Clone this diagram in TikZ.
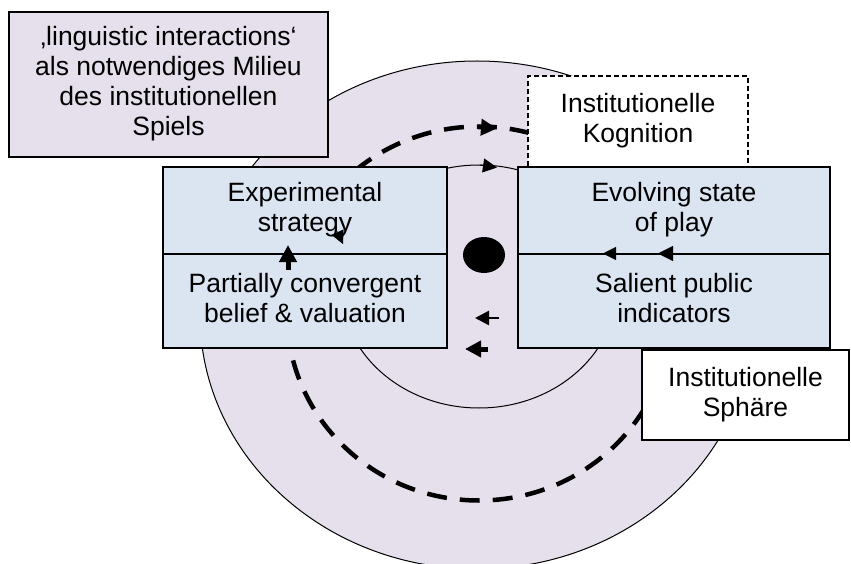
\documentclass[tikz,border=0pt]{standalone}
\usepackage{fontspec}
\setmainfont{Liberation Sans}
\usetikzlibrary{arrows.meta}
\definecolor{lila}{RGB}{229,224,236}
\definecolor{celeste}{RGB}{219,229,241}

\begin{document}
\begin{tikzpicture}[x=1pt,y=-1pt,
    caja/.style={draw, line width=1.6pt, align=center, inner sep=0pt,
      font=\fontsize{26.5}{30}\selectfont},
    mitad/.style={caja, fill=celeste},
    punta/.style={-{Triangle[length=#1pt,width=#1pt]}}]
	\useasboundingbox (0,0) rectangle (851,564);

	% Esferas de fondo
	\filldraw[fill=lila, line width=1pt] (477,315) ellipse [x radius=277, y radius=254];
	\draw[line width=1pt] (479,286.5) ellipse [x radius=138, y radius=121.5];
	\draw[line width=4.5pt, dash pattern=on 20pt off 13pt] (479,313.5) ellipse [x radius=192, y radius=187];
	\fill (484,255) ellipse [x radius=21, y radius=18];

	% Cajas de texto
	\node[caja, fill=lila, minimum width=319pt, minimum height=145pt] (L) at (168.5,84.5)
	  {‚linguistic interactions‘\strut\\als notwendiges Milieu\\des institutionellen\\Spiels\strut};
	\node[caja, fill=white, line width=1.5pt, dash pattern=on 5pt off 3pt,
	  minimum width=220pt, minimum height=91pt] (K) at (638,121.5)
	  {Institutionelle\strut\\Kognition\strut};
	\node[mitad, minimum width=284pt, minimum height=87pt] (E) at (305,210.5)
	  {Experimental\strut\\strategy\strut};
	\node[mitad, minimum width=284pt, minimum height=94pt] (P) at (305,301)
	  {Partially convergent\strut\\belief \& valuation\strut};
	\node[mitad, minimum width=312pt, minimum height=87pt] (V) at (674,210.5)
	  {Evolving state\strut\\of play\strut};
	\node[mitad, minimum width=312pt, minimum height=94pt] (S) at (674,301)
	  {Salient public\strut\\indicators\strut};
	\node[caja, fill=white, minimum width=207pt, minimum height=90pt] (H) at (745.5,395)
	  {Institutionelle\strut\\Sphäre\strut};

	% Flechas sueltas
	\draw[line width=4.5pt, punta=16] (478,127) -- (497,128.5);
	\draw[line width=1pt, punta=14] (480,165) -- (497,167.5);
	\draw[line width=5pt, punta=17] (288,270) -- (288,245);
	\draw[punta=13] (337,231) -- (343,244);
	\draw[punta=13] (616,253.5) -- (603,253.5);
	\draw[punta=15] (673,253.5) -- (658,253.5);
	\draw[line width=2.5pt, punta=14] (499,318) -- (475,318);
	\draw[line width=5pt, punta=16] (488,349) -- (465,349);

\end{tikzpicture}
\end{document}
